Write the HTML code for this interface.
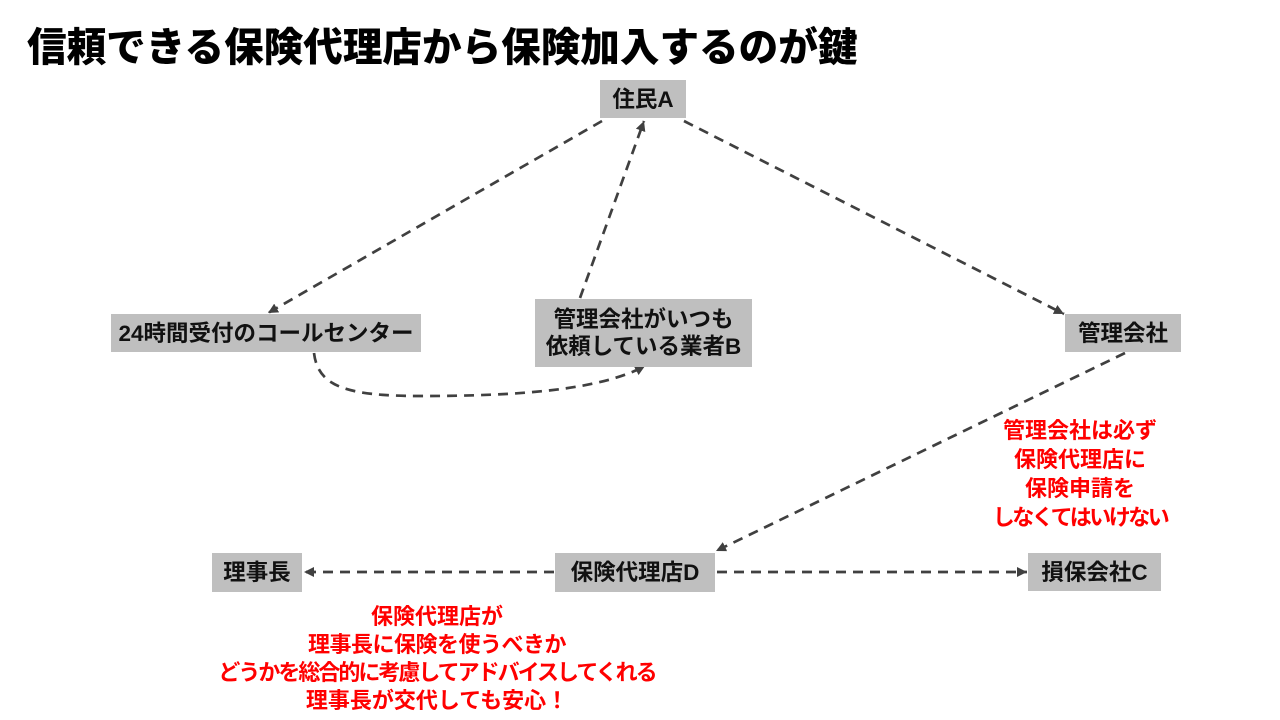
<!DOCTYPE html>
<html>
<head>
<meta charset="utf-8">
<style>
  html,body{margin:0;padding:0;background:#fff;}
  body{width:1280px;height:720px;position:relative;overflow:hidden;
    font-family:"Liberation Sans","Noto Sans CJK JP",sans-serif;}
  .title{position:absolute;left:27px;top:26px;font-size:39.6px;line-height:44px;font-weight:900;color:#000;white-space:nowrap;letter-spacing:0px;}
  .box{position:absolute;background:#bfbfbf;color:#111;font-weight:bold;font-size:22.5px;
    display:flex;align-items:center;justify-content:center;text-align:center;white-space:nowrap;line-height:27px;}
  .red{position:absolute;color:#ff0000;font-weight:bold;font-size:22px;line-height:28px;text-align:center;white-space:nowrap;}
  svg{position:absolute;left:0;top:0;}
</style>
</head>
<body>
<div class="title">信頼できる保険代理店から保険加入するのが鍵</div>

<svg width="1280" height="720" viewBox="0 0 1280 720">
  <defs>
    <marker id="ah" markerUnits="userSpaceOnUse" markerWidth="12" markerHeight="12" refX="10" refY="5" orient="auto">
      <path d="M0,0 L10,5 L0,10 Z" fill="#404040"/>
    </marker>
  </defs>
  <g fill="none" stroke="#404040" stroke-width="2.7" stroke-dasharray="10 7">
    <path d="M602,121 L268,313" marker-end="url(#ah)"/>
    <path d="M580,298 L644,121" marker-end="url(#ah)"/>
    <path d="M684,121 L1064,314" marker-end="url(#ah)"/>
    <path d="M314,353 C318,386 345,396 420,396 C520,396 600,390 645,366" marker-end="url(#ah)"/>
    <path d="M1125,353 L716,551" marker-end="url(#ah)"/>
    <path d="M554,572 L304,572" marker-end="url(#ah)"/>
    <path d="M717,572 L1027,572" marker-end="url(#ah)"/>
  </g>
</svg>

<div class="box" style="left:600px;top:80px;width:86px;height:38px;">住民A</div>
<div class="box" style="left:111px;top:314px;width:310px;height:38px;">24時間受付のコールセンター</div>
<div class="box" style="left:535px;top:299px;width:217px;height:68px;">管理会社がいつも<br>依頼している業者B</div>
<div class="box" style="left:1065px;top:314px;width:116px;height:38px;">管理会社</div>
<div class="box" style="left:212px;top:553px;width:90px;height:39px;">理事長</div>
<div class="box" style="left:555px;top:553px;width:160px;height:39px;">保険代理店D</div>
<div class="box" style="left:1028px;top:553px;width:133px;height:38px;">損保会社C</div>

<div class="red" style="left:980px;top:416px;width:200px;line-height:29px;">
  管理会社は必ず<br>保険代理店に<br>保険申請を<br><span style="letter-spacing:-2.5px;">しなくてはいけない</span>
</div>

<div class="red" style="left:187px;top:603px;width:500px;">
  保険代理店が<br><span style="letter-spacing:-0.5px;">理事長に保険を使うべきか</span><br><span style="letter-spacing:-2px;">どうかを総合的に考慮してアドバイスしてくれる</span><br>理事長が交代しても安心！
</div>
</body>
</html>
